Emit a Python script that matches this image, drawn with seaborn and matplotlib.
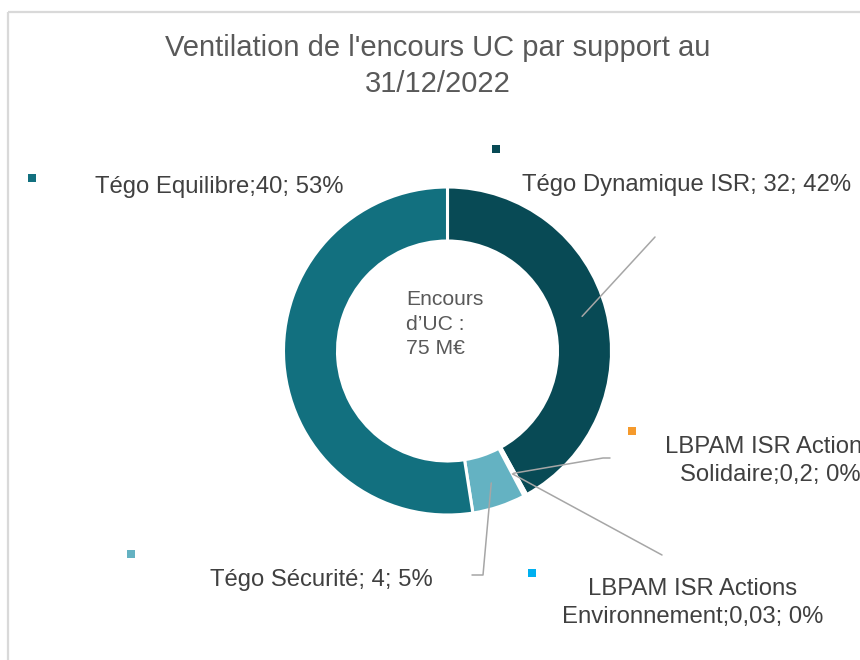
import numpy as np
import matplotlib
matplotlib.use('Agg')
import matplotlib.pyplot as plt
import seaborn as sns
from matplotlib.patches import Rectangle

# Données
supports = ['Tégo Dynamique ISR', 'LBPAM ISR Actions Solidaire', 'LBPAM ISR Actions Environnement',
            'Tégo Sécurité', 'Tégo Equilibre']
encours = [32, 0.2, 0.03, 4, 40]
valeurs_txt = ['32', '0,2', '0,03', '4', '40']
pourcentages = ['42%', '0%', '0%', '5%', '53%']
etiquettes = ['Tégo Dynamique ISR; 32; 42%',
              'LBPAM ISR Actions\nSolidaire;0,2; 0%',
              'LBPAM ISR Actions\nEnvironnement;0,03; 0%',
              'Tégo Sécurité; 4; 5%',
              'Tégo Equilibre;40; 53%']
couleurs = ['#084A55', '#F59A2C', '#00B0F0', '#64B2C2', '#12707F']
titre = "Ventilation de l'encours UC par support au\n31/12/2022"
texte_centre = 'Encours\nd\u2019UC :\n75 M€'

sns.set_style('white')
plt.rcParams['font.family'] = ['Liberation Sans', 'DejaVu Sans']

fig = plt.figure(figsize=(8.6, 6.6), dpi=100)
ax = fig.add_axes([0, 0, 1, 1])

cx, cy, r_ext, largeur = 447.5, 351, 164, 54
wedges, _ = ax.pie(encours, colors=couleurs, startangle=-90, counterclock=True,
                   center=(cx, cy), radius=r_ext,
                   wedgeprops=dict(width=largeur, edgecolor='white', linewidth=2.2))
ax.set_xlim(0, 860)
ax.set_ylim(660, 0)
ax.set_aspect('equal')
ax.axis('off')

# cadre du graphique
ax.add_patch(Rectangle((8, 12), 900, 700, fill=False, edgecolor='#D9D9D9', lw=1.6, clip_on=False))

ax.text(437.5, 66, titre, ha='center', va='center', fontsize=21, color='#595959', linespacing=1.33)
ax.text(406, 324, texte_centre, ha='left', va='center', fontsize=15.2, color='#595959', linespacing=1.38)

# positions des étiquettes (texte, marqueur, ligne de rappel)
pos_texte = [(687, 185, 'center'), (770, 461, 'center'), (693, 603, 'center'),
             (321, 580, 'center'), (219, 187, 'center')]
pos_marqueur = [(496, 149), (632, 431), (532, 573), (131, 554), (32, 178)]
rappels = [[(655, 237)], [(603, 458), (610, 458)], [(662, 555)],
           [(483, 575), (472, 575)], None]

r_mid = 139
for w, txt, (tx, ty, ha), (mx, my), col, rp in zip(wedges, etiquettes, pos_texte,
                                                    pos_marqueur, couleurs, rappels):
    ax.text(tx, ty, txt, ha=ha, va='center', fontsize=17.2, color='#404040', linespacing=1.35)
    ax.scatter([mx], [my], marker='s', s=26, color=col, linewidths=0)
    if rp is not None:
        th = np.deg2rad((w.theta1 + w.theta2) / 2)
        x0, y0 = cx + r_mid * np.cos(th), cy + r_mid * np.sin(th)
        xs = [x0] + [p[0] for p in rp]
        ys = [y0] + [p[1] for p in rp]
        ax.plot(xs, ys, color='#A6A6A6', lw=1.1)

fig.savefig('out.png', dpi=100, facecolor='white')
